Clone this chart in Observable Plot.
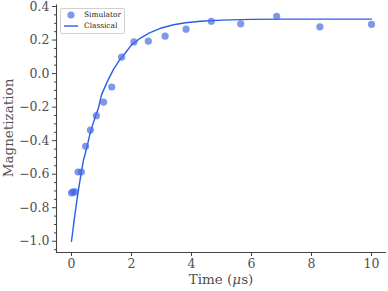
<!DOCTYPE html>
<html>
<head>
<meta charset="utf-8">
<script src="https://cdn.jsdelivr.net/npm/d3@7"></script>
<script src="https://cdn.jsdelivr.net/npm/@observablehq/plot@0.6"></script>
<style>
  html, body { margin: 0; padding: 0; background: white; }
  #wrap { position: relative; width: 388px; height: 291px; font-family: "DejaVu Serif", serif; }
  .legend { position: absolute; left: 60px; top: 8px; width: 63px; height: 24px; border: 1px solid #d0d0d0; border-radius: 2px; background: rgba(255,255,255,0.8); font-size: 7.4px; color: #222; }
  .legend .row { position: absolute; left: 0; height: 10px; line-height: 10px; }
  .xlabel { position: absolute; left: 56px; width: 330px; top: 271px; text-align: center; font-size: 13.5px; color: #505050; line-height: 16px; }
  .ylabel { position: absolute; left: 2px; top: 128px; font-size: 13.5px; color: #505050; transform-origin: 0 0; transform: rotate(-90deg) translate(-50%, 0); white-space: nowrap; line-height: 13px; }
</style>
</head>
<body>
<div id="wrap"></div>
<script>
// Simulator points (time in µs, magnetization)
const simTimes = [0, 0.05, 0.12, 0.22, 0.33, 0.47, 0.63, 0.83, 1.07, 1.34, 1.67, 2.08, 2.56, 3.12, 3.82, 4.66, 5.64, 6.84, 8.28, 10.0];
const simValues = [-0.712, -0.705, -0.706, -0.587, -0.587, -0.434, -0.337, -0.251, -0.170, -0.080, 0.098, 0.189, 0.193, 0.223, 0.265, 0.312, 0.297, 0.342, 0.279, 0.294];

// Classical curve
const classicalTimes = [0, 0.1, 0.2, 0.3, 0.4, 0.5, 0.6, 0.7, 0.8, 0.9, 1.0, 1.2, 1.4, 1.6, 1.8, 2.0, 2.3, 2.6, 3.0, 3.4, 3.8, 4.3, 5.0, 6.0, 7.0, 8.0, 9.0, 10.0];
const classicalValues = [-1.0, -0.859, -0.731, -0.618, -0.515, -0.449, -0.371, -0.309, -0.254, -0.204, -0.127, -0.045, 0.025, 0.080, 0.124, 0.171, 0.212, 0.243, 0.272, 0.291, 0.303, 0.312, 0.319, 0.323, 0.325, 0.325, 0.325, 0.325];

const yTicks = [-1.0, -0.8, -0.6, -0.4, -0.2, 0.0, 0.2, 0.4];
const yMinorTicks = [-1.05, -0.95, -0.9, -0.85, -0.75, -0.7, -0.65, -0.55, -0.5, -0.45, -0.35, -0.3, -0.25, -0.15, -0.1, -0.05, 0.05, 0.1, 0.15, 0.25, 0.3, 0.35];
const xTicks = [0, 2, 4, 6, 8, 10];
const xLabel = "Time (μs)";
const yLabel = "Magnetization";
const seriesNames = ["Simulator", "Classical"];

const sim = simTimes.map((t, i) => ({t, m: simValues[i]}));
const classical = classicalTimes.map((t, i) => ({t, m: classicalValues[i]}));

const xDomain = [-0.5, 10.5];
const yDomain = [-1.067, 0.409];
const fmt = d => d.toFixed(1).replace("-", "\u2212");

const chart = Plot.plot({
  width: 388,
  height: 291,
  marginLeft: 56,
  marginRight: 2,
  marginTop: 4.5,
  marginBottom: 39,
  style: {fontFamily: "DejaVu Serif", background: "white", color: "#505050", overflow: "visible"},
  x: {domain: xDomain},
  y: {domain: yDomain},
  marks: [
    Plot.axisY(yMinorTicks, {tickSize: 2, tickFormat: () => "", label: null, stroke: "#444"}),
    Plot.axisY(yTicks, {tickSize: 4, tickPadding: 3, tickFormat: fmt, fontSize: 12.5, label: null, stroke: "#444"}),
    Plot.axisX(xTicks, {tickSize: 4, tickPadding: 3, fontSize: 12.5, label: null, stroke: "#444"}),
    Plot.ruleX([xDomain[0]], {stroke: "#444", strokeWidth: 1.1}),
    Plot.ruleY([yDomain[0]], {stroke: "#444", strokeWidth: 1.1}),
    Plot.line(classical, {x: "t", y: "m", stroke: "#2a5de8", strokeWidth: 1.4}),
    Plot.dot(sim, {x: "t", y: "m", r: 3.6, fill: "royalblue", fillOpacity: 0.68, stroke: "none"})
  ]
});

const wrap = document.getElementById("wrap");
wrap.appendChild(chart);

const xl = document.createElement("div");
xl.className = "xlabel";
xl.innerHTML = xLabel.replace("μ", "<i>μ</i>");
wrap.appendChild(xl);

const yl = document.createElement("div");
yl.className = "ylabel";
yl.textContent = yLabel;
wrap.appendChild(yl);

// Legend
const lg = document.createElement("div");
lg.className = "legend";
lg.innerHTML = `
  <div class="row" style="top:1px;width:63px">
    <svg width="20" height="10" style="position:absolute;left:0;top:0"><circle cx="10" cy="5" r="3.6" fill="royalblue" fill-opacity="0.68"/></svg>
    <span style="position:absolute;left:23px">${seriesNames[0]}</span>
  </div>
  <div class="row" style="top:12px;width:63px">
    <svg width="20" height="10" style="position:absolute;left:0;top:0"><line x1="3" x2="17" y1="5" y2="5" stroke="#2a5de8" stroke-width="1.4"/></svg>
    <span style="position:absolute;left:23px">${seriesNames[1]}</span>
  </div>`;
wrap.appendChild(lg);
</script>
</body>
</html>
